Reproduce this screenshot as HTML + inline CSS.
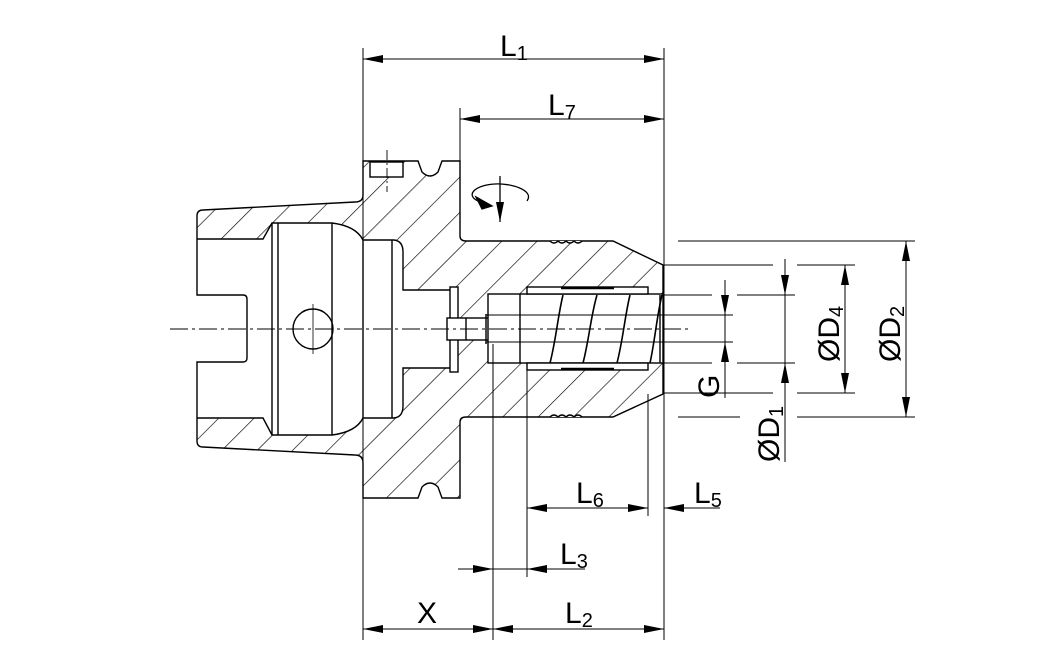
<!DOCTYPE html>
<html><head><meta charset="utf-8"><style>
html,body{margin:0;padding:0;background:#fff}
svg{display:block}
text{font-family:"Liberation Sans",sans-serif;fill:#000}
</style></head><body>
<svg width="1050" height="666" viewBox="0 0 1050 666" xmlns="http://www.w3.org/2000/svg">
<defs>
<pattern id="h" patternUnits="userSpaceOnUse" width="25" height="25" patternTransform="rotate(45)">
<line x1="0" y1="0" x2="0" y2="25" stroke="#000" stroke-width="1.3"/>
</pattern>
<marker id="a" viewBox="0 0 20 10" refX="20" refY="5" markerWidth="20" markerHeight="10" markerUnits="userSpaceOnUse" orient="auto-start-reverse">
<path d="M0,1 L20,5 L0,9 Z" fill="#000"/>
</marker>
</defs>
<g fill="none" stroke="#000" stroke-width="1.4">
<path fill="url(#h)" d="M197,216 Q197,210 203,210 L355,202 Q363,202 363,195 L363,161 L418,161 L422,172 Q430,180 438,172 L442,161 L460,161 L460,236 Q460,241 466,241 L613,241 L663,265 L663,394 L613,417 L466,417 Q460,417 460,422 L460,498 L442,498 L438,487 Q430,479 422,487 L418,498 L363,498 L363,463 Q363,455 355,455 L203,447 Q197,447 197,441 Z"/>
<path fill="#fff" stroke="none" d="M190,239 L263,239 L272,223 L332,223 Q356,226 363,240 L394,240 Q403,241 403,252 L403,290 L450,290 L450,368 L403,368 L403,406 Q403,417 394,418 L363,418 Q356,432 332,435 L272,435 L263,418 L190,418 Z"/>
<path d="M197,239 L263,239 L272,223 L332,223 Q356,226 363,240 L394,240 Q403,241 403,252 L403,290 L450,290 M450,368 L403,368 L403,406 Q403,417 394,418 L363,418 Q356,432 332,435 L272,435 L263,418 L197,418"/>
<path d="M197,239 L197,295 L243,295 Q247,295 247,299 L247,358 Q247,362 243,362 L197,362 L197,418"/>
<line x1="272" y1="223" x2="272" y2="435"/>
<line x1="278" y1="223" x2="278" y2="435"/>
<line x1="332" y1="223" x2="332" y2="435"/>
<line x1="363" y1="240" x2="363" y2="418"/>
<line x1="392" y1="240" x2="392" y2="418"/>
<circle cx="313" cy="329" r="20"/>
<line x1="313" y1="304" x2="313" y2="354" stroke-width="0.8"/>
<rect x="450" y="287" width="8" height="85" fill="#fff"/>
<rect x="447" y="318" width="46" height="22" fill="#fff"/>
<line x1="466" y1="318" x2="466" y2="340"/>
<line x1="486" y1="314" x2="486" y2="344"/>
<rect x="488" y="294" width="175" height="69" fill="#fff"/>
<line x1="520" y1="294" x2="520" y2="363"/>
<rect x="527" y="287" width="121" height="7" fill="#fff"/>
<rect x="527" y="363" width="121" height="7" fill="#fff"/>
<line x1="561" y1="288" x2="614" y2="288" stroke-width="2.5"/>
<line x1="561" y1="369" x2="614" y2="369" stroke-width="2.5"/>
<path d="M550,363 C556,340 558,315 563,295 M583,363 C589,340 591,315 597,295 M617,363 C623,340 625,315 630,295 M650,363 C655,340 657,315 662,295" stroke-width="1.6"/>
<line x1="660" y1="295" x2="660" y2="363"/>
<path d="M550,241 q4,4 8,0 q4,4 8,0 q4,4 8,0 q4,4 8,0" fill="#fff"/>
<path d="M550,417 q4,-4 8,0 q4,-4 8,0 q4,-4 8,0 q4,-4 8,0" fill="#fff"/>
<rect x="370" y="162" width="33" height="15" fill="#fff"/>
</g>
<g stroke="#000" stroke-width="0.9" fill="none">
<line x1="170" y1="329" x2="690" y2="329" stroke-dasharray="18,4,3,4"/>
<line x1="387" y1="150" x2="387" y2="192" stroke-dasharray="10,3,2,3"/>
<line x1="486" y1="315" x2="733" y2="315"/>
<line x1="486" y1="342" x2="733" y2="342"/>
</g>
<g stroke="#000" stroke-width="1.3" fill="none">
<path d="M527,201 C535,190 510,183 495,184 C475,185 465,195 478,201"/>
<path d="M476,197 L492,206 L482,209 Z" fill="#000"/>
<line x1="500" y1="176" x2="500" y2="222" marker-end="url(#a)"/>
</g>
<g stroke="#000" stroke-width="1" fill="none">
<line x1="363" y1="48" x2="363" y2="640"/>
<line x1="664" y1="48" x2="664" y2="640"/>
<line x1="460" y1="108" x2="460" y2="161"/>
<line x1="493" y1="344" x2="493" y2="640"/>
<line x1="527" y1="370" x2="527" y2="577"/>
<line x1="648" y1="394" x2="648" y2="516"/>
<line x1="678" y1="241" x2="915" y2="241"/>
<line x1="663" y1="265" x2="773" y2="265"/>
<line x1="797" y1="265" x2="855" y2="265"/>
<line x1="663" y1="295" x2="712" y2="295"/>
<line x1="737" y1="295" x2="795" y2="295"/>
<line x1="663" y1="363" x2="712" y2="363"/>
<line x1="737" y1="363" x2="795" y2="363"/>
<line x1="663" y1="393" x2="773" y2="393"/>
<line x1="797" y1="393" x2="855" y2="393"/>
<line x1="678" y1="417" x2="740" y2="417"/>
<line x1="797" y1="417" x2="915" y2="417"/>
</g>
<g stroke="#000" stroke-width="1" fill="none">
<line x1="363" y1="59" x2="664" y2="59" marker-start="url(#a)" marker-end="url(#a)"/>
<line x1="460" y1="119" x2="664" y2="119" marker-start="url(#a)" marker-end="url(#a)"/>
<line x1="906" y1="241" x2="906" y2="417" marker-start="url(#a)" marker-end="url(#a)"/>
<line x1="845" y1="265" x2="845" y2="393" marker-start="url(#a)" marker-end="url(#a)"/>
<line x1="785" y1="259" x2="785" y2="295" marker-end="url(#a)"/>
<line x1="785" y1="295" x2="785" y2="363"/>
<line x1="785" y1="462" x2="785" y2="363" marker-end="url(#a)"/>
<line x1="725" y1="280" x2="725" y2="315" marker-end="url(#a)"/>
<line x1="725" y1="315" x2="725" y2="342"/>
<line x1="725" y1="398" x2="725" y2="342" marker-end="url(#a)"/>
<line x1="527" y1="508" x2="648" y2="508" marker-start="url(#a)" marker-end="url(#a)"/>
<line x1="720" y1="508" x2="664" y2="508" marker-end="url(#a)"/>
<line x1="458" y1="569" x2="493" y2="569" marker-end="url(#a)"/>
<line x1="585" y1="569" x2="527" y2="569" marker-end="url(#a)"/>
<line x1="493" y1="569" x2="527" y2="569"/>
<line x1="363" y1="629" x2="493" y2="629" marker-start="url(#a)" marker-end="url(#a)"/>
<line x1="493" y1="629" x2="664" y2="629" marker-start="url(#a)" marker-end="url(#a)"/>
</g>
<g font-size="30">
<text x="500" y="56">L<tspan font-size="20" dy="4">1</tspan></text>
<text x="548" y="115">L<tspan font-size="20" dy="4">7</tspan></text>
<text x="576" y="503">L<tspan font-size="20" dy="4">6</tspan></text>
<text x="694" y="503">L<tspan font-size="20" dy="4">5</tspan></text>
<text x="560" y="564">L<tspan font-size="20" dy="4">3</tspan></text>
<text x="417" y="623">X</text>
<text x="565" y="623">L<tspan font-size="20" dy="4">2</tspan></text>
<text transform="translate(719,398) rotate(-90)">G</text>
<text transform="translate(779,462) rotate(-90)">ØD<tspan font-size="20" dy="4">1</tspan></text>
<text transform="translate(839,362) rotate(-90)">ØD<tspan font-size="20" dy="4">4</tspan></text>
<text transform="translate(900,362) rotate(-90)">ØD<tspan font-size="20" dy="4">2</tspan></text>
</g>
</svg>
</body></html>
